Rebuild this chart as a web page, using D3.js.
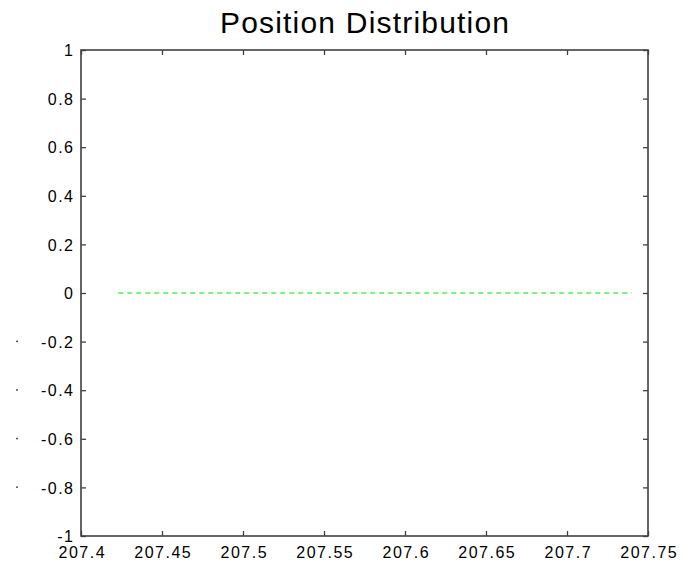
<!DOCTYPE html>
<html>
<head>
<meta charset="utf-8">
<script src="https://cdn.jsdelivr.net/npm/d3@7"></script>
<style>
  html, body { margin: 0; padding: 0; background: #fff; }
  svg { display: block; }
  text { font-family: "Liberation Sans", Arial, sans-serif; fill: #000; }
</style>
</head>
<body>
<div id="chart"></div>
<script>
// Figure text
const titleText = "Position Distribution";

// Axis ranges and ticks
const xDomain = [207.4, 207.75];
const yDomain = [-1, 1];
const xTicks = [207.4, 207.45, 207.5, 207.55, 207.6, 207.65, 207.7, 207.75];
const xTickLabels = ["207.4", "207.45", "207.5", "207.55", "207.6", "207.65", "207.7", "207.75"];
const yTicks = [-1, -0.8, -0.6, -0.4, -0.2, 0, 0.2, 0.4, 0.6, 0.8, 1];
const yTickLabels = ["-1", "-0.8", "-0.6", "-0.4", "-0.2", "0", "0.2", "0.4", "0.6", "0.8", "1"];

// Distribution line (x, y)
const lineX = [207.423, 207.740];
const lineY = [0, 0];

const W = 691, H = 566;
const margin = { top: 50, right: 43, bottom: 30, left: 81 };
const iw = W - margin.left - margin.right;
const ih = H - margin.top - margin.bottom;

const tickFont = 16, tickSpacing = 1.5;

const svg = d3.select("#chart").append("svg")
  .attr("width", W).attr("height", H);

const x = d3.scaleLinear().domain(xDomain).range([0, iw]);
const y = d3.scaleLinear().domain(yDomain).range([ih, 0]);

const g = svg.append("g").attr("transform", `translate(${margin.left},${margin.top})`);

// Title
svg.append("text")
  .attr("x", margin.left + iw / 2 + 0.6)
  .attr("y", 33)
  .attr("text-anchor", "middle")
  .style("font-size", "30px")
  .style("letter-spacing", "1.2px")
  .text(titleText);

const axisColor = "#404040";
const tickLen = 5;

// Inward ticks on all four sides
function styleAxis(sel) {
  sel.select(".domain").remove();
  sel.selectAll(".tick line").attr("stroke", axisColor).attr("stroke-width", 1.3);
  sel.selectAll(".tick text")
    .style("font-size", tickFont + "px")
    .style("letter-spacing", tickSpacing + "px")
    .style("font-family", "'Liberation Sans', Arial, sans-serif");
}

const xb = g.append("g").attr("transform", `translate(0,${ih})`)
  .call(d3.axisBottom(x).tickValues(xTicks).tickSize(-tickLen)
    .tickFormat((d, i) => xTickLabels[i]));
styleAxis(xb);
xb.selectAll(".tick text").attr("y", 22).attr("dy", 0).attr("x", tickSpacing / 2);

const xt = g.append("g")
  .call(d3.axisTop(x).tickValues(xTicks).tickSize(-tickLen).tickFormat(""));
styleAxis(xt);

const yl = g.append("g")
  .call(d3.axisLeft(y).tickValues(yTicks).tickSize(-tickLen)
    .tickFormat((d, i) => yTickLabels[i]));
styleAxis(yl);
yl.selectAll(".tick text").attr("x", -8 + tickSpacing).attr("dy", "0.36em");

const yr = g.append("g").attr("transform", `translate(${iw},0)`)
  .call(d3.axisRight(y).tickValues(yTicks).tickSize(-tickLen).tickFormat(""));
styleAxis(yr);

// Small stray marks beside the negative inner tick labels
g.append("g").selectAll("rect")
  .data(yTicks.filter(d => d < 0 && d > -1))
  .join("rect")
  .attr("x", -margin.left + 16)
  .attr("y", d => y(d) - 1)
  .attr("width", 2)
  .attr("height", 1.5)
  .attr("fill", "#555");

// Axes box
g.append("rect")
  .attr("x", 0).attr("y", 0).attr("width", iw).attr("height", ih)
  .attr("fill", "none").attr("stroke", axisColor).attr("stroke-width", 1.6);

// Dashed distribution line
const line = d3.line().x(d => x(d[0])).y(d => y(d[1]));
g.append("path")
  .datum(lineX.map((v, i) => [v, lineY[i]]))
  .attr("d", line)
  .attr("fill", "none")
  .attr("stroke", "#00e000")
  .attr("stroke-width", 1.1)
  .attr("stroke-dasharray", "5,4");
</script>
</body>
</html>
